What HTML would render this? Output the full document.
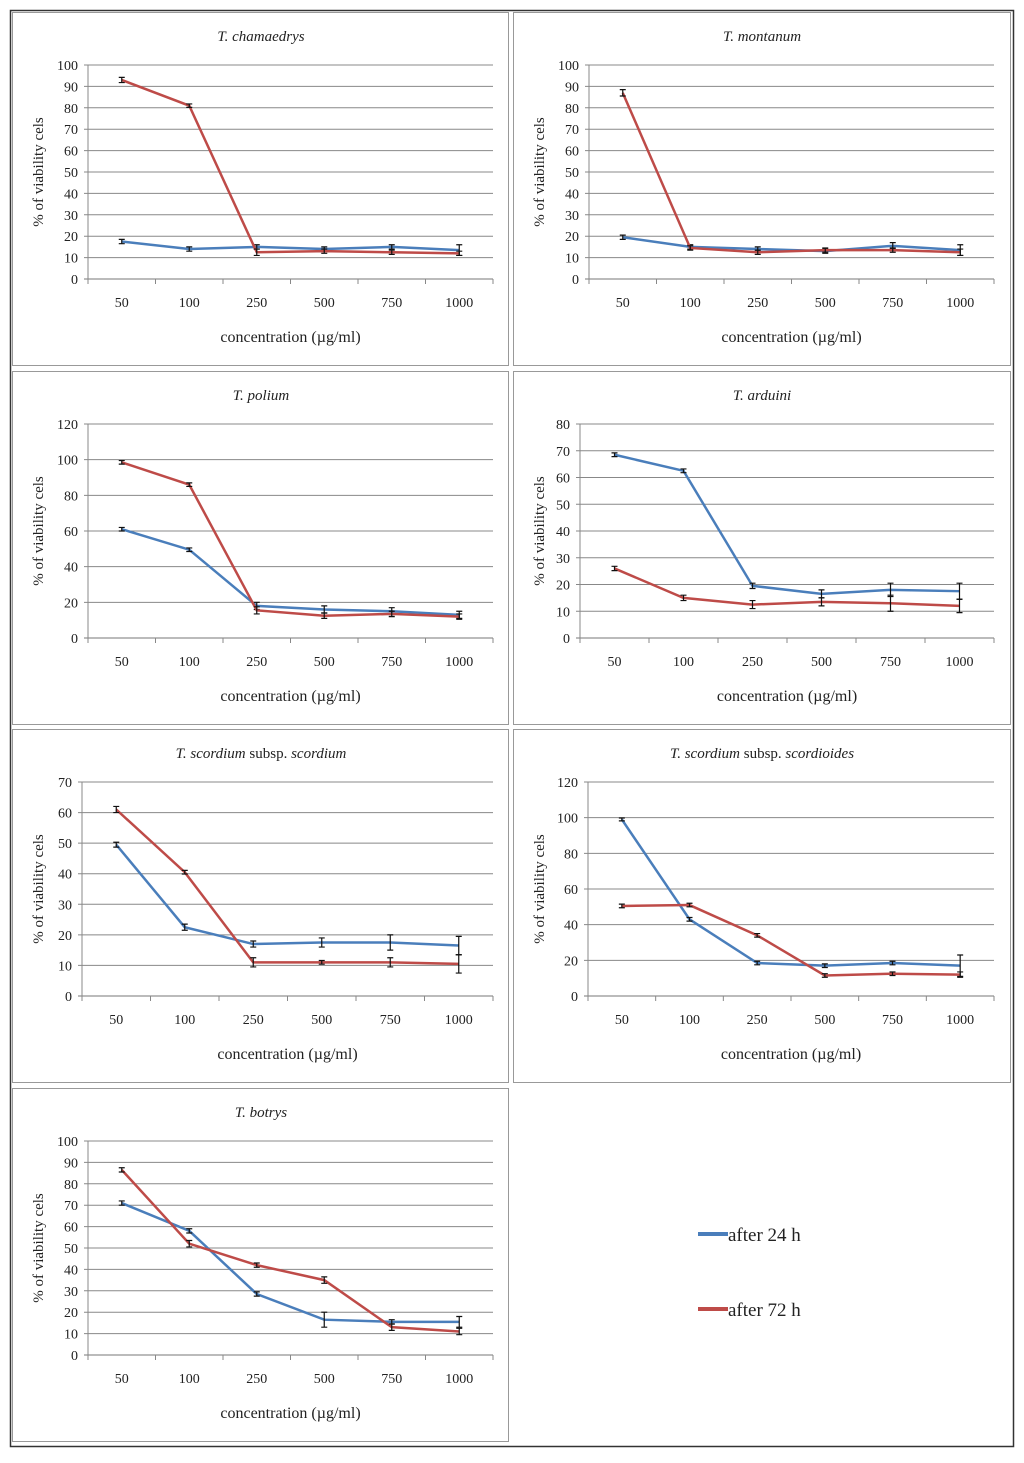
<!DOCTYPE html>
<html><head><meta charset="utf-8"><style>
body{margin:0;background:#fff;}
svg text{font-family:"Liberation Serif",serif;fill:#222;}
</style></head><body>
<svg id="fig" width="1024" height="1458" xmlns="http://www.w3.org/2000/svg">
<rect x="10.5" y="10.5" width="1003" height="1436" fill="#fff" stroke="#333" stroke-width="1.5"/>
<g>
<line x1="698" y1="1234" x2="728" y2="1234" stroke="#4a7ebb" stroke-width="4"/>
<text x="728" y="1241" font-size="19">after 24 h</text>
<line x1="698" y1="1309" x2="728" y2="1309" stroke="#be4b48" stroke-width="4"/>
<text x="728" y="1316" font-size="19">after 72 h</text>
</g>
</svg>
<script>
const categories=["50","100","250","500","750","1000"];
const titles=["T. chamaedrys","T. montanum","T. polium","T. arduini","T. scordium subsp. scordium","T. scordium subsp. scordioides","T. botrys"];
const yMax=[100,100,120,80,70,120,100];
const yStep=[10,10,20,10,10,20,10];
const blue24=[
[17.5,14,15,14,15,13.5],
[19.5,15,14,13,15.5,13.5],
[61,49.5,18,16,15,13],
[68.5,62.5,19.5,16.5,18,17.5],
[49.5,22.5,17,17.5,17.5,16.5],
[99,43,18.5,17,18.5,17],
[71,58,28.5,16.5,15.5,15.5]];
const red72=[
[93,81,12.5,13,12.5,12],
[87,14.5,12.5,13.5,13.5,12.5],
[98.5,86,15.5,12.5,13.5,12],
[26,15,12.5,13.5,13,12],
[61,40.5,11,11,11,10.5],
[50.5,51,34,11.5,12.5,12],
[86.5,52,42,35,13,11]];
const errBlue=[
[1,1,1,1,1,2.5],[1,1,1,1,1.5,2.5],[1,1,2,2,2,2],[0.7,0.7,1,1.5,2.5,3],[0.8,1,1,1.5,2.5,3],[0.8,1,1,1,1,6],[1,1,1,3.5,1,2.5]];
const errRed=[
[1.2,0.8,1.5,1,1,1],[1.5,1,1,1,1,1.5],[1,1,2,1.5,1.5,1.5],[0.8,1,1.5,1.5,3,2.5],[1,0.6,1.5,0.6,1.5,3],[1,1,1,1,1,1.5],[1,1.5,1,1.5,1.5,1.5]];

const NS="http://www.w3.org/2000/svg";
const svg=document.getElementById('fig');
function mk(tag,attrs,parent){const e=document.createElementNS(NS,tag);for(const k in attrs)e.setAttribute(k,attrs[k]);(parent||svg).appendChild(e);return e;}
const rowsTop=[12,371,729,1088];
const lefts=[88,589,88,580,82,588,88];
for(let p=0;p<7;p++){
  const col=p%2,row=Math.floor(p/2);
  const px=col?513:12, py=rowsTop[row], pw=col?497:496, ph=353;
  const g=mk('g',{});
  
  
  const fr=mk('rect',{x:px+0.5,y:py+0.5,width:pw,height:ph,fill:'#fff',stroke:'#999','stroke-width':1},g);
  
  
  const L=lefts[p], R=col?994:493, T=py+53, B=py+267;
  const ys=v=>B-(v/yMax[p])*(B-T);
  const cw=(R-L)/6;
  const xs=i=>L+cw*(i+0.5);
  const t=mk('text',{x:px+249,y:py+29,'font-size':15,'text-anchor':'middle','font-style':'italic'},g);
  
  
  if(titles[p].includes('subsp.')){
    const parts=titles[p].split(' subsp. ');
    const s1=mk('tspan',{},t);s1.textContent=parts[0];
    const s2=mk('tspan',{'font-style':'normal'},t);s2.textContent=' subsp. ';
    const s3=mk('tspan',{},t);s3.textContent=parts[1];
  } else t.textContent=titles[p];
  for(let v=0;v<=yMax[p];v+=yStep[p]){
    const y=ys(v);
    const gl=mk('line',{x1:L-4,x2:R,y1:y,y2:y,stroke:v===0?'#777':'#888','stroke-width':1},g);
    
    
    const tl=mk('text',{x:L-10,y:y+5,'font-size':14,'text-anchor':'end'},g);
    
    
    tl.textContent=v;
  }
  const ya=mk('line',{x1:L,x2:L,y1:T,y2:B,stroke:'#888'},g);
  
  
  for(let i=0;i<=6;i++){
    const tk=mk('line',{x1:L+cw*i,x2:L+cw*i,y1:B,y2:B+5,stroke:'#888'},g);
    
    
  }
  categories.forEach((c,i)=>{
    const xl=mk('text',{x:xs(i),y:B+28,'font-size':14,'text-anchor':'middle'},g);
    
    
    xl.textContent=c;
  });
  const xt=mk('text',{x:(L+R)/2,y:B+63,'font-size':16,'text-anchor':'middle'},g);
  
  
  xt.textContent='concentration (\u00b5g/ml)';
  const yt=mk('text',{x:0,y:0,'font-size':15,'text-anchor':'middle',transform:`translate(${px+31},${(T+B)/2}) rotate(-90)`},g);
  
  
  yt.textContent='%   of viability cels';
  [[blue24[p],errBlue[p],'#4a7ebb','after-24h'],[red72[p],errRed[p],'#be4b48','after-72h']].forEach(([vals,errs,color,nm])=>{
    const pl=mk('polyline',{points:vals.map((v,i)=>xs(i)+','+ys(v)).join(' '),fill:'none',stroke:color,'stroke-width':2.5},g);
    
    
    vals.forEach((v,i)=>{
      const x=xs(i),y1=ys(v+errs[i]),y2=ys(v-errs[i]);
      const eb=mk('path',{d:`M${x},${y1}V${y2}M${x-3},${y1}H${x+3}M${x-3},${y2}H${x+3}`,stroke:'#111','stroke-width':1.2,fill:'none'},g);
      
      
    });
  });
}
</script>
</body></html>
